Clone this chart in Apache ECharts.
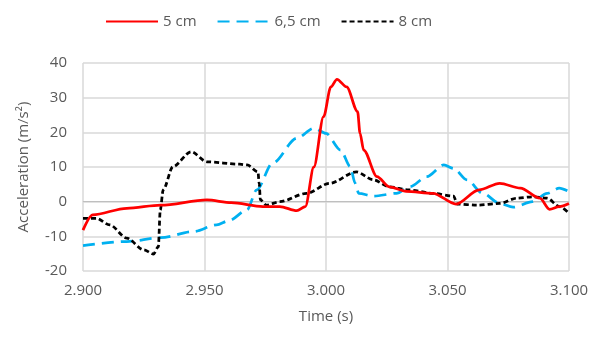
<!DOCTYPE html>
<html>
<head>
<meta charset="utf-8">
<script src="https://cdn.jsdelivr.net/npm/echarts@6/dist/echarts.min.js"></script>
<style>
    html, body { margin: 0; padding: 0; background: #fff; }
    #chart { width: 593px; height: 339px; }
</style>
</head>
<body>
<div id="chart"></div>
<script>
// 5 cm
const time5 = [2.900, 2.904, 2.918, 2.932, 2.951, 2.961, 2.974, 2.981, 2.988, 2.9915, 2.995, 2.999, 3.002, 3.0045, 3.0085, 3.013, 3.014, 3.0155, 3.021, 3.026, 3.033, 3.044, 3.0535, 3.063, 3.0715, 3.080, 3.088, 3.092, 3.096, 3.100];
const acc5 = [-8.2, -3.8, -1.9, -1.0, 0.5, -0.3, -1.4, -1.4, -2.6, -1.4, 10, 24.5, 33.1, 35.3, 33.1, 26, 19.7, 14.9, 7.2, 4.3, 3.0, 2.4, -0.7, 3.4, 5.3, 3.9, 1.0, -2.2, -1.4, -0.5];

// 6,5 cm
const time65 = [2.900, 2.918, 2.932, 2.9455, 2.955, 2.960, 2.9675, 2.9715, 2.978, 2.988, 2.995, 3.000, 3.006, 3.010, 3.012, 3.0135, 3.0195, 3.029, 3.0345, 3.0415, 3.0485, 3.0525, 3.058, 3.0645, 3.0715, 3.077, 3.085, 3.091, 3.096, 3.100];
const acc65 = [-12.7, -11.5, -10.4, -8.6, -6.7, -5.5, -2.4, 3.4, 11.1, 18.3, 21.2, 19.7, 14.9, 10.1, 5.3, 2.4, 1.6, 2.4, 4.3, 7.2, 10.6, 9.6, 6.3, 2.4, -0.5, -1.6, 0, 2.4, 3.9, 2.9];

// 8 cm
const time8 = [2.900, 2.9055, 2.911, 2.918, 2.925, 2.929, 2.931, 2.9318, 2.933, 2.937, 2.9445, 2.951, 2.9645, 2.9675, 2.972, 2.9725, 2.973, 2.9755, 2.981, 2.992, 3.0015, 3.0125, 3.0195, 3.026, 3.034, 3.044, 3.0525, 3.054, 3.062, 3.0715, 3.0785, 3.085, 3.091, 3.096, 3.100];
const acc8 = [-4.8, -4.8, -6.7, -10.5, -13.9, -15.1, -13, -2.4, 3.4, 10.1, 14.4, 11.5, 10.8, 10.6, 8.6, 5.3, 0.5, -1.0, 0, 2.4, 5.3, 8.6, 6.3, 4.3, 3.4, 2.4, 1.6, -0.7, -1.0, -0.5, 1.0, 1.4, 1.0, -1.4, -3.3];

const seriesNames = ['5 cm', '6,5 cm', '8 cm'];
const xTicks = [2.9, 3.1, 0.05];   // min, max, step
const yTicks = [-20, 40, 10];

const pairs = (xs, ys) => xs.map((x, i) => [x, ys[i]]);

const chart = echarts.init(document.getElementById('chart'));

const lineSeries = (name, data, color, type, width) => ({
    name: name,
    type: 'line',
    data: data,
    smooth: 0.3,
    smoothMonotone: 'x',
    symbol: 'none',
    showSymbol: false,
    lineStyle: { color: color, width: width, type: type, cap: 'butt' },
    itemStyle: { color: color },
    z: 3
});

const s5 = lineSeries(seriesNames[0], pairs(time5, acc5), '#ff0000', 'solid', 2.75);
s5.z = 5;
// Excel axis line crossing at zero
s5.markLine = {
    silent: true,
    symbol: 'none',
    label: { show: false },
    lineStyle: { color: '#bfbfbf', width: 1, type: 'solid' },
    data: [{ yAxis: 0 }],
    z: 1
};
const s65 = lineSeries(seriesNames[1], pairs(time65, acc65), '#00b0f0', [12, 7], 2.75);
const s8 = lineSeries(seriesNames[2], pairs(time8, acc8), '#000000', [5, 3], 2.75);

chart.setOption({
    backgroundColor: '#ffffff',
    animation: false,
    textStyle: { fontFamily: 'Open Sans' },
    legend: {
        data: seriesNames,
        top: 9,
        left: 100,
        itemWidth: 52,
        itemHeight: 14,
        itemGap: 20,
        itemStyle: { color: 'transparent', opacity: 0, borderWidth: 0 },
        textStyle: { color: '#595959', fontSize: 15, fontFamily: 'Open Sans' }
    },
    grid: { left: 83, right: 24, top: 63, bottom: 68 },
    xAxis: {
        type: 'value',
        min: xTicks[0],
        max: xTicks[1],
        interval: xTicks[2],
        name: 'Time (s)',
        nameLocation: 'middle',
        nameGap: 38,
        nameTextStyle: { color: '#595959', fontSize: 15 },
        axisLine: { show: true, lineStyle: { color: '#d9d9d9', width: 1 } },
        axisTick: { show: false },
        axisLabel: {
            color: '#595959',
            fontSize: 15,
            margin: 12,
            formatter: v => v.toFixed(3)
        },
        splitLine: { show: true, lineStyle: { color: '#d9d9d9', width: 1.5 } }
    },
    yAxis: {
        type: 'value',
        min: yTicks[0],
        max: yTicks[1],
        interval: yTicks[2],
        name: 'Acceleration (m/s²)',
        nameLocation: 'middle',
        nameGap: 52,
        nameTextStyle: { color: '#595959', fontSize: 15 },
        axisLine: { show: false },
        axisTick: { show: false },
        axisLabel: { color: '#595959', fontSize: 15, margin: 16 },
        splitLine: { show: true, lineStyle: { color: '#d9d9d9', width: 1.5 } }
    },
    series: [s5, s65, s8]
});
</script>
</body>
</html>
